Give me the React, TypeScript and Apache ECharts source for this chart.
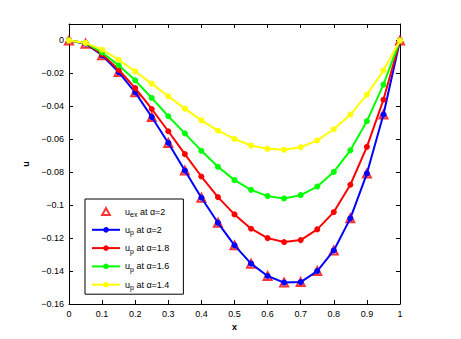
import React, { useEffect, useRef } from "react";
import * as echarts from "echarts";

const xValues = [0, 0.05, 0.1, 0.15, 0.2, 0.25, 0.3, 0.35, 0.4, 0.45, 0.5, 0.55, 0.6, 0.65, 0.7, 0.75, 0.8, 0.85, 0.9, 0.95, 1];
const uExact2 = [0, -0.002, -0.009, -0.0192, -0.0315, -0.0465, -0.0622, -0.079, -0.0955, -0.1107, -0.1244, -0.1355, -0.143, -0.147, -0.1467, -0.14, -0.1275, -0.108, -0.0808, -0.045, 0];
const uP20 = [0, -0.002, -0.009, -0.0192, -0.0315, -0.0465, -0.0622, -0.079, -0.0955, -0.1107, -0.1244, -0.1355, -0.143, -0.147, -0.1467, -0.14, -0.1275, -0.108, -0.0808, -0.045, 0];
const uP18 = [0, -0.0016, -0.0083, -0.0178, -0.0289, -0.0416, -0.0551, -0.069, -0.0826, -0.0951, -0.1056, -0.1143, -0.12, -0.1224, -0.1212, -0.1147, -0.1042, -0.0876, -0.0646, -0.036, 0];
const uP16 = [0, -0.0015, -0.0073, -0.0151, -0.0242, -0.0349, -0.046, -0.0564, -0.067, -0.0767, -0.0848, -0.0907, -0.0945, -0.0959, -0.0939, -0.0887, -0.0798, -0.0667, -0.049, -0.0268, 0];
const uP14 = [0, -0.0015, -0.0056, -0.0117, -0.0188, -0.0262, -0.0339, -0.0414, -0.0485, -0.0547, -0.0598, -0.0638, -0.0658, -0.0664, -0.0648, -0.0607, -0.0539, -0.045, -0.0329, -0.0182, 0];

const seriesNames = ["u_ex at α=2", "u_p at α=2", "u_p at α=1.8", "u_p at α=1.6", "u_p at α=1.4"];
const seriesColors = ["#ff0000", "#0000ff", "#ff0000", "#00ff00", "#ffff00"];

const FONT = "Liberation Sans, Arial, Helvetica, sans-serif";

function pairs(ys: number[]) {
  return xValues.map((x, i) => [x, ys[i]]);
}

function fmt(v: number) {
  const s = String(Math.round(v * 1000) / 1000);
  return s.replace("-", "\u2212");
}

export default function App() {
  const ref = useRef<HTMLDivElement>(null);
  useEffect(() => {
    if (!ref.current) return;
    const chart = echarts.init(ref.current, null, { renderer: "svg" });
    const axisCommon = {
      axisLine: { show: true, onZero: false, lineStyle: { color: "#000", width: 1 } },
      axisTick: { show: true, inside: true, length: 4, lineStyle: { color: "#000" } },
      splitLine: { show: false },
    };
    const lineData = [uP20, uP18, uP16, uP14];
    const option: any = {
      animation: false,
      backgroundColor: "#fff",
      grid: { left: 69, right: 61, top: 24, bottom: 35, containLabel: false },
      legend: {
        orient: "vertical",
        left: 85,
        top: 199,
        width: 90,
        padding: [8, 14, 3, 6],
        itemGap: 7.3,
        itemWidth: 28,
        itemHeight: 7,
        symbolKeepAspect: true,
        borderColor: "#000",
        borderWidth: 1,
        backgroundColor: "#fff",
        data: seriesNames.map((n, i) =>
          i === 0 ? { name: n, icon: "path://M0,10 L5.5,0 L11,10 Z" } : { name: n }
        ),
        formatter: (name: string) => {
          const m = name.match(/^u_(\w+)(.*)$/);
          if (!m) return name;
          return `{u|u}{sub|${m[1]}}{t|${m[2]}}`;
        },
        textStyle: {
          fontFamily: FONT,
          fontSize: 9,
          color: "#000",
          rich: {
            u: { fontFamily: FONT, fontSize: 9, color: "#000", height: 14 },
            sub: { fontFamily: FONT, fontSize: 7, color: "#000", padding: [6, 0, 0, 0] },
            t: { fontFamily: FONT, fontSize: 9, color: "#000" },
          },
        },
      },
      xAxis: [
        {
          type: "value",
          min: 0,
          max: 1,
          interval: 0.1,
          position: "bottom",
          name: "x",
          nameLocation: "middle",
          nameGap: 17,
          nameTextStyle: { fontFamily: FONT, fontSize: 9, fontWeight: "bold", color: "#000" },
          axisLabel: { fontFamily: FONT, fontSize: 9, color: "#000", margin: 5, formatter: fmt },
          ...axisCommon,
        },
        {
          type: "value",
          min: 0,
          max: 1,
          interval: 0.1,
          position: "top",
          axisLabel: { show: false },
          ...axisCommon,
        },
      ],
      yAxis: [
        {
          type: "value",
          min: -0.16,
          max: 0.01,
          interval: 0.02,
          position: "left",
          name: "u",
          nameLocation: "middle",
          nameGap: 34,
          nameRotate: 90,
          nameTextStyle: { fontFamily: FONT, fontSize: 9, fontWeight: "bold", color: "#000" },
          axisLabel: {
            fontFamily: FONT,
            fontSize: 9,
            color: "#000",
            margin: 5,
            showMaxLabel: false,
            formatter: (v: number) => (v > 0.001 ? "" : fmt(v)),
          },
          ...axisCommon,
        },
        {
          type: "value",
          min: -0.16,
          max: 0.01,
          interval: 0.02,
          position: "right",
          axisLabel: { show: false },
          ...axisCommon,
        },
      ],
      series: [
        {
          name: seriesNames[0],
          type: "scatter",
          symbol: "triangle",
          symbolSize: 8,
          itemStyle: { color: "rgba(255,255,255,0)", borderColor: seriesColors[0], borderWidth: 2 },
          data: pairs(uExact2),
          z: 2,
        },
        ...lineData.map((d, i) => ({
          name: seriesNames[i + 1],
          type: "line",
          symbol: "circle",
          symbolSize: 6,
          showAllSymbol: true,
          lineStyle: { color: seriesColors[i + 1], width: 2 },
          itemStyle: { color: seriesColors[i + 1], borderWidth: 0 },
          data: pairs(d),
          z: 3 + i,
        })),
      ],
    };
    chart.setOption(option);
    return () => chart.dispose();
  }, []);
  return (
    <div
      ref={ref}
      style={{ position: "fixed", left: 0, top: 0, width: 461, height: 339 }}
    />
  );
}
